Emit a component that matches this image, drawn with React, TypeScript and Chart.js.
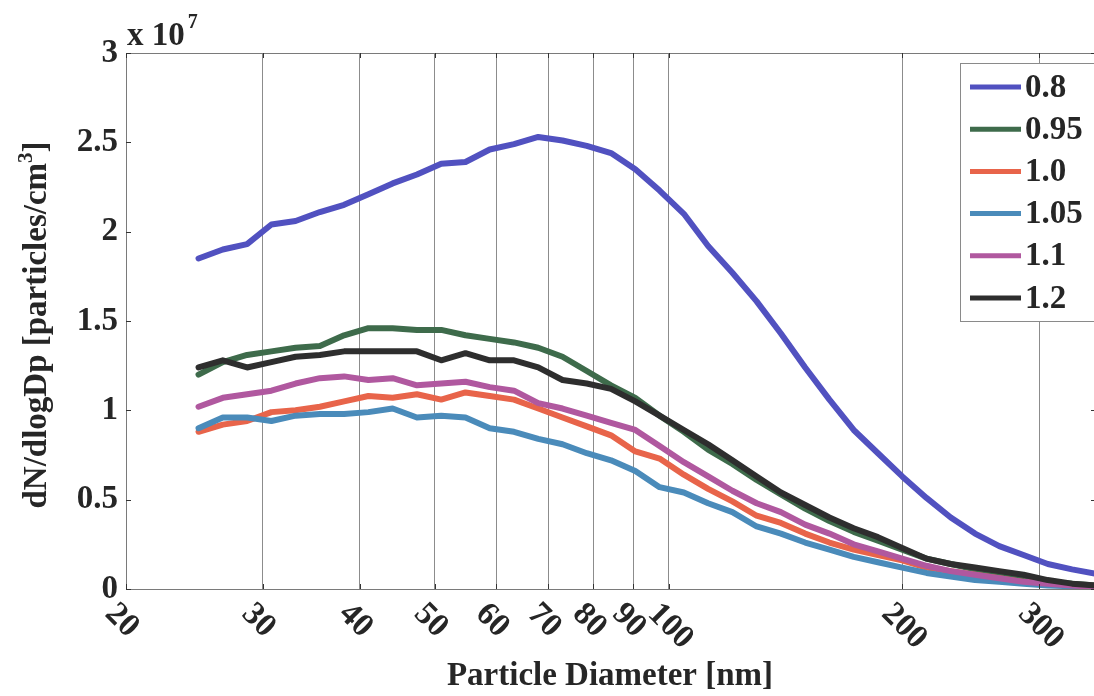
import React, { useEffect, useRef } from "react";
import { Chart, registerables } from "chart.js";

Chart.register(...registerables);

// Particle diameters (nm)
const diameters = [
  24.8, 26.65, 28.64, 30.78, 33.07, 35.54, 38.19, 41.04, 44.1, 47.39,
  50.93, 54.73, 58.81, 63.2, 67.91, 72.98, 78.42, 84.27, 90.56, 97.32,
  104.58, 112.38, 120.77, 129.78, 139.46, 149.86, 161.04, 173.06, 185.97, 199.84,
  214.75, 230.77, 247.99, 266.49, 286.37, 307.73, 330.69, 355.0,
];

// dN/dlogDp in units of 10^7 particles/cm^3
const s080 = [
  1.85, 1.9, 1.93, 2.04, 2.06, 2.11, 2.15, 2.21, 2.27, 2.32,
  2.38, 2.39, 2.46, 2.49, 2.53, 2.51, 2.48, 2.44, 2.35, 2.23,
  2.1, 1.92, 1.77, 1.61, 1.43, 1.24, 1.06, 0.89, 0.76, 0.63,
  0.51, 0.4, 0.31, 0.24, 0.19, 0.14, 0.11, 0.085,
];
const s095 = [
  1.2, 1.27, 1.31, 1.33, 1.35, 1.36, 1.42, 1.46, 1.46, 1.45,
  1.45, 1.42, 1.4, 1.38, 1.35, 1.3, 1.22, 1.14, 1.07, 0.97,
  0.88, 0.78, 0.7, 0.61, 0.53, 0.45, 0.38, 0.32, 0.27, 0.22,
  0.17, 0.14, 0.11, 0.08, 0.06, 0.04, 0.03, 0.02,
];
const s100 = [
  0.88, 0.92, 0.94, 0.99, 1.0, 1.02, 1.05, 1.08, 1.07, 1.09,
  1.06, 1.1, 1.08, 1.06, 1.01, 0.96, 0.91, 0.86, 0.77, 0.73,
  0.64, 0.56, 0.49, 0.41, 0.37, 0.31, 0.26, 0.22, 0.19, 0.16,
  0.12, 0.1, 0.08, 0.06, 0.04, 0.03, 0.02, 0.01,
];
const s105 = [
  0.9, 0.96, 0.96, 0.94, 0.97, 0.98, 0.98, 0.99, 1.01, 0.96,
  0.97, 0.96, 0.9, 0.88, 0.84, 0.81, 0.76, 0.72, 0.66, 0.57,
  0.54, 0.48, 0.43, 0.35, 0.31, 0.26, 0.22, 0.18, 0.15, 0.12,
  0.09, 0.07, 0.05, 0.04, 0.03, 0.02, 0.015, 0.01,
];
const s110 = [
  1.02, 1.07, 1.09, 1.11, 1.15, 1.18, 1.19, 1.17, 1.18, 1.14,
  1.15, 1.16, 1.13, 1.11, 1.04, 1.01, 0.97, 0.93, 0.89, 0.8,
  0.71, 0.63, 0.55, 0.48, 0.43, 0.36, 0.31, 0.25, 0.21, 0.17,
  0.13, 0.1, 0.08, 0.06, 0.04, 0.03, 0.02, 0.01,
];
const s120 = [
  1.24, 1.28, 1.24, 1.27, 1.3, 1.31, 1.33, 1.33, 1.33, 1.33,
  1.28, 1.32, 1.28, 1.28, 1.24, 1.17, 1.15, 1.12, 1.05, 0.97,
  0.89, 0.81, 0.72, 0.63, 0.54, 0.47, 0.4, 0.34, 0.29, 0.23,
  0.17, 0.14, 0.12, 0.1, 0.08, 0.05, 0.03, 0.02,
];

const seriesLabels = ["0.8", "0.95", "1.0", "1.05", "1.1", "1.2"];
const seriesValues = [s080, s095, s100, s105, s110, s120];
const seriesColors = ["#5151c0", "#3e6b4b", "#e8644a", "#4a8bba", "#b0589f", "#2e2e2e"];

const xTickValues = [20, 30, 40, 50, 60, 70, 80, 90, 100, 200, 300];
const xTickLabels = ["20", "30", "40", "50", "60", "70", "80", "90", "100", "200", "300"];

const X_MIN = 20;
const X_MAX = 355;
const Y_MIN = 0;
const Y_MAX = 3;
const Y_STEP = 0.5;

const FONT = "'Liberation Serif', 'Times New Roman', serif";
const TEXT = "#262626";

const overlayPlugin = {
  id: "overlay",
  afterDraw(chart: any) {
    const { ctx, chartArea } = chart;
    const xs = chart.scales.x;
    const ys = chart.scales.y;
    ctx.save();

    // axis box
    ctx.strokeStyle = "#7a7a7a";
    ctx.lineWidth = 1;
    ctx.strokeRect(chartArea.left + 0.5, chartArea.top + 0.5, chartArea.right - chartArea.left, chartArea.bottom - chartArea.top);

    // small inward tick marks on y axis
    ctx.strokeStyle = "#333";
    for (let v = Y_MIN; v <= Y_MAX + 1e-9; v += Y_STEP) {
      const py = Math.round(ys.getPixelForValue(v)) + 0.5;
      ctx.beginPath();
      ctx.moveTo(chartArea.left, py);
      ctx.lineTo(chartArea.left + 5, py);
      ctx.moveTo(chartArea.right, py);
      ctx.lineTo(chartArea.right - 5, py);
      ctx.stroke();
    }
    // small tick marks on x axis
    xTickValues.forEach((v) => {
      const px = Math.round(xs.getPixelForValue(v)) + 0.5;
      ctx.beginPath();
      ctx.moveTo(px, chartArea.bottom);
      ctx.lineTo(px, chartArea.bottom - 5);
      ctx.moveTo(px, chartArea.top);
      ctx.lineTo(px, chartArea.top + 5);
      ctx.stroke();
    });

    // rotated x tick labels
    ctx.fillStyle = TEXT;
    ctx.font = `bold 33px ${FONT}`;
    ctx.textAlign = "left";
    ctx.textBaseline = "middle";
    xTickValues.forEach((v, i) => {
      const px = xs.getPixelForValue(v);
      ctx.save();
      ctx.translate(px - 16, chartArea.bottom + 20);
      ctx.rotate(Math.PI / 4);
      ctx.fillText(xTickLabels[i], 0, 0);
      ctx.restore();
    });

    // x axis title
    ctx.textAlign = "center";
    ctx.textBaseline = "alphabetic";
    ctx.font = `bold 33px ${FONT}`;
    ctx.fillText("Particle Diameter [nm]", 610, 685);

    // y axis title with superscript
    ctx.save();
    ctx.translate(46, 325);
    ctx.rotate(-Math.PI / 2);
    const main = "dN/dlogDp [particles/cm";
    ctx.font = `bold 33px ${FONT}`;
    const w1 = ctx.measureText(main).width;
    const w3 = ctx.measureText("]").width;
    ctx.font = `bold 21px ${FONT}`;
    const w2 = ctx.measureText("3").width;
    const total = w1 + w2 + w3;
    let sx = -total / 2;
    ctx.textAlign = "left";
    ctx.font = `bold 33px ${FONT}`;
    ctx.fillText(main, sx, 0);
    sx += w1;
    ctx.font = `bold 21px ${FONT}`;
    ctx.fillText("3", sx, -14);
    sx += w2;
    ctx.font = `bold 33px ${FONT}`;
    ctx.fillText("]", sx, 0);
    ctx.restore();

    // multiplier
    ctx.textAlign = "left";
    ctx.textBaseline = "alphabetic";
    ctx.font = `bold 33px ${FONT}`;
    ctx.fillText("x 10", 127, 45);
    const wm = ctx.measureText("x 10").width;
    ctx.font = `bold 20px ${FONT}`;
    ctx.fillText("7", 127 + wm + 3, 28);

    // legend
    const lx = 960;
    const ly = 63;
    const lw = 150;
    const lh = 258;
    ctx.fillStyle = "#ffffff";
    ctx.fillRect(lx, ly, lw, lh);
    ctx.strokeStyle = "#8a8a8a";
    ctx.lineWidth = 1;
    ctx.strokeRect(lx + 0.5, ly + 0.5, lw, lh);
    ctx.font = `bold 33px ${FONT}`;
    ctx.textBaseline = "middle";
    seriesLabels.forEach((lab, i) => {
      const cy = 87 + i * 42.2;
      ctx.strokeStyle = seriesColors[i];
      ctx.lineWidth = 5;
      ctx.beginPath();
      ctx.moveTo(970, cy);
      ctx.lineTo(1021, cy);
      ctx.stroke();
      ctx.fillStyle = TEXT;
      ctx.fillText(lab, 1025, cy + 1);
    });

    ctx.restore();
  },
};

export default function App() {
  const canvasRef = useRef<HTMLCanvasElement | null>(null);

  useEffect(() => {
    const canvas = canvasRef.current;
    if (!canvas) return;
    const datasets = seriesLabels.map((label, si) => ({
      label,
      data: diameters.map((d, i) => ({ x: d, y: seriesValues[si][i] })),
      borderColor: seriesColors[si],
      backgroundColor: seriesColors[si],
      borderWidth: 6,
      pointRadius: 0,
      tension: 0,
      fill: false,
      borderJoinStyle: "round" as const,
      borderCapStyle: "round" as const,
      order: seriesLabels.length - si,
    }));
    const chart = new Chart(canvas, {
      type: "line",
      data: { datasets },
      options: {
        animation: false,
        responsive: false,
        devicePixelRatio: 1,
        layout: { padding: { left: 0, top: 53, right: 4, bottom: 0 } },
        plugins: {
          legend: { display: false },
          tooltip: { enabled: false },
          title: { display: false },
        },
        scales: {
          x: {
            type: "logarithmic",
            min: X_MIN,
            max: X_MAX,
            afterBuildTicks: (scale: any) => {
              scale.ticks = xTickValues.map((v) => ({ value: v }));
            },
            afterFit: (scale: any) => {
              scale.height = 107;
            },
            ticks: { display: false },
            grid: {
              color: "#8c8c8c",
              lineWidth: 1,
              drawTicks: false,
            },
            border: { display: false },
          },
          y: {
            type: "linear",
            min: Y_MIN,
            max: Y_MAX,
            afterFit: (scale: any) => {
              scale.width = 126;
            },
            ticks: {
              stepSize: Y_STEP,
              padding: 8,
              color: TEXT,
              font: { family: FONT, size: 33, weight: "bold" },
              callback: (v: any) => String(Number(v)),
            },
            grid: { display: false, drawTicks: false },
            border: { display: false },
          },
        },
      },
      plugins: [overlayPlugin],
    });
    return () => chart.destroy();
  }, []);

  return (
    <div
      style={{
        position: "fixed",
        left: 0,
        top: 0,
        width: 1094,
        height: 696,
        overflow: "hidden",
        background: "#ffffff",
      }}
    >
      <canvas ref={canvasRef} width={1100} height={696} style={{ display: "block" }} />
    </div>
  );
}
